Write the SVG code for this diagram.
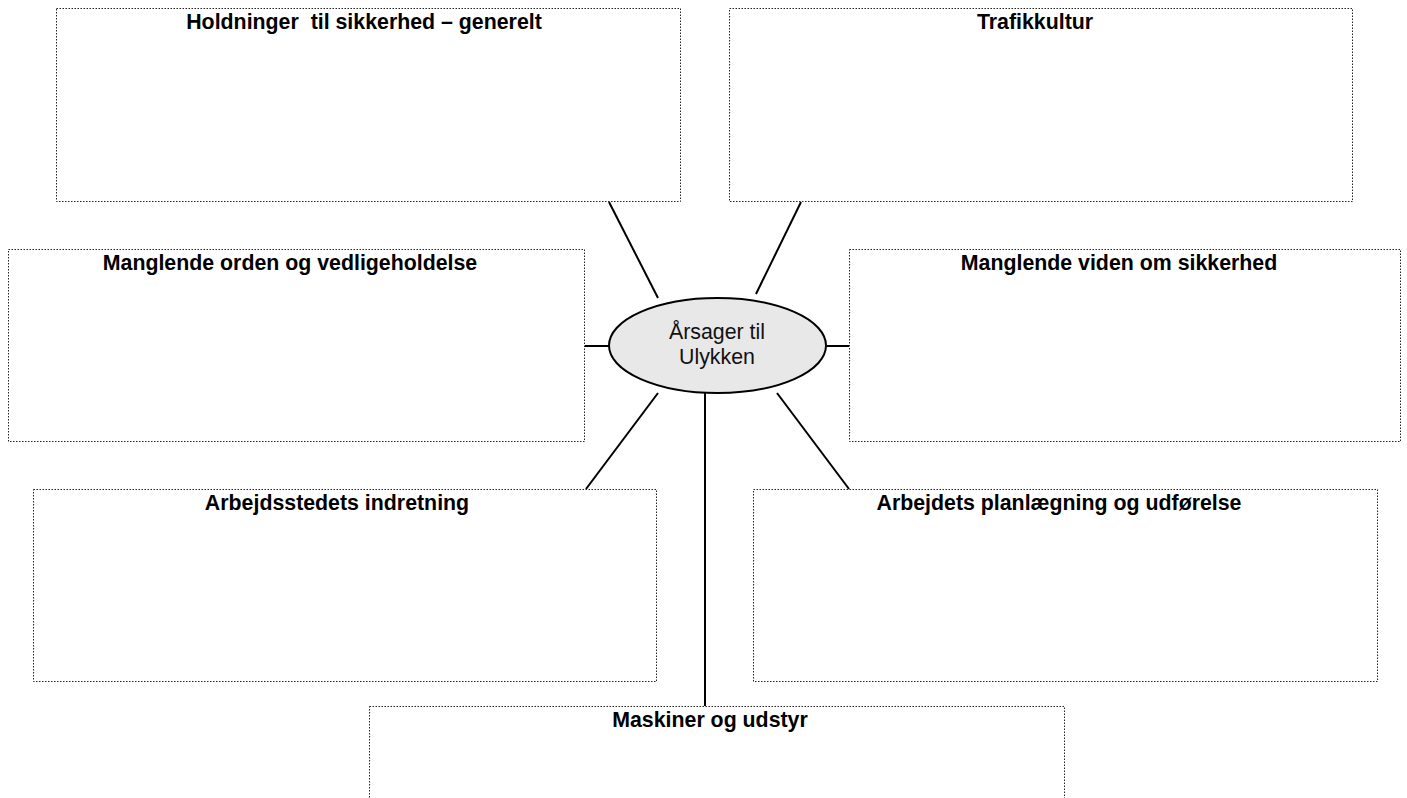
<svg xmlns="http://www.w3.org/2000/svg" width="1407" height="798" viewBox="0 0 1407 798">
<style>
.box{fill:#fff;stroke:#222;stroke-width:1;stroke-dasharray:1.5 1.5}
.title{font-family:"Liberation Sans",Arial,sans-serif;font-weight:bold;font-size:21.33px;text-anchor:middle;fill:#000;white-space:pre}
.conn line{stroke:#000;stroke-width:2}
.hub{fill:#e8e8e8;stroke:#000;stroke-width:2}
.hubtext{font-family:"Liberation Sans",Arial,sans-serif;font-size:21.33px;text-anchor:middle;fill:#111}
</style>
<rect width="1407" height="798" fill="#fff"/>
<g id="n1"><rect class="box" x="56.5" y="8.5" width="624" height="193"/><text class="title" x="364" y="29" xml:space="preserve">Holdninger  til sikkerhed – generelt</text></g>
<g id="n2"><rect class="box" x="729.5" y="8.5" width="623" height="193"/><text class="title" x="1035" y="29">Trafikkultur</text></g>
<g id="n3"><rect class="box" x="8.5" y="249.5" width="576" height="192"/><text class="title" x="290" y="270">Manglende orden og vedligeholdelse</text></g>
<g id="n4"><rect class="box" x="849.5" y="249.5" width="551" height="192"/><text class="title" x="1119" y="270">Manglende viden om sikkerhed</text></g>
<g id="n5"><rect class="box" x="33.5" y="489.5" width="623" height="192"/><text class="title" x="337" y="510">Arbejdsstedets indretning</text></g>
<g id="n6"><rect class="box" x="753.5" y="489.5" width="624" height="192"/><text class="title" x="1059" y="510">Arbejdets planlægning og udførelse</text></g>
<g id="n7"><rect class="box" x="369.5" y="706.5" width="695" height="120"/><text class="title" x="710" y="727">Maskiner og udstyr</text></g>
<g id="connectors" class="conn">
<line x1="609" y1="202" x2="658" y2="298"/>
<line x1="801" y1="202" x2="756" y2="294"/>
<line x1="585" y1="346" x2="609" y2="346"/>
<line x1="826" y1="346" x2="849" y2="346"/>
<line x1="658" y1="393" x2="586" y2="489"/>
<line x1="777" y1="393" x2="849" y2="489"/>
<line x1="705" y1="393" x2="705" y2="706"/>
</g>
<g id="hub"><ellipse class="hub" cx="717.5" cy="345.5" rx="108.5" ry="47.5"/><text class="hubtext" x="717" y="339">Årsager til</text><text class="hubtext" x="717" y="364">Ulykken</text></g>
</svg>
